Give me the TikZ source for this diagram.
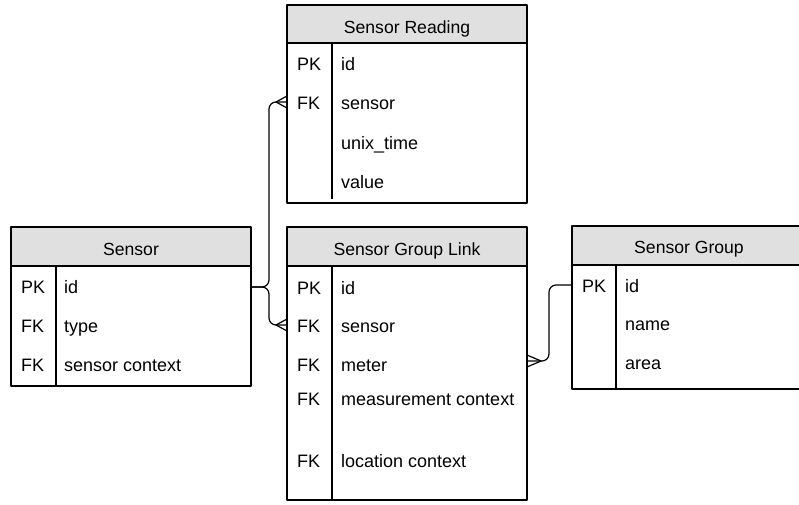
\documentclass[tikz,border=0pt]{standalone}
\usepackage{fontspec}
\setmainfont{Liberation Sans}
\begin{document}
\begin{tikzpicture}[x=1pt,y=-1pt,
  line join=round,
  ebox/.style={draw, line width=1.2pt, inner sep=0pt, outer sep=0pt, anchor=north west, rectangle,
    path picture={\fill[hdr] (path picture bounding box.north west) rectangle ([yshift=-#1]path picture bounding box.north east);}},
  hline/.style={line width=1.2pt},
  ttl/.style={anchor=base, inner sep=0pt, font=\fontsize{17.6}{20}\selectfont},
  key/.style={anchor=base west, inner sep=0pt, font=\fontsize{18}{21}\selectfont},
  fld/.style={anchor=base west, inner sep=0pt, font=\fontsize{18}{21}\selectfont},
  conn/.style={line width=1.2pt, rounded corners=7pt},
  foot/.style={line width=1.2pt},
]
\definecolor{hdr}{RGB}{224,224,224}
\useasboundingbox (0,0) rectangle (799,504);

% ---------- Sensor Reading ----------
\node[ebox=38pt, minimum width=240pt, minimum height=198pt] (sr) at (287,5) {};
\draw[hline] (287,43) -- (527,43);
\draw[hline] (332,43) -- (332,199);
\node[ttl] (srT) at (407,33) {Sensor Reading};
\node[key] (srK1) at (297,70) {PK};
\node[fld] (srF1) at (341,70) {id};
\node[key] (srK2) at (297,109.5) {FK};
\node[fld] (srF2) at (341,109.5) {sensor};
\node[fld] (srF3) at (341,149) {unix\_time};
\node[fld] (srF4) at (341,188) {value};

% ---------- Sensor ----------
\node[ebox=39pt, minimum width=240pt, minimum height=159pt] (s) at (11,227) {};
\draw[hline] (11,266) -- (251,266);
\draw[hline] (56,266) -- (56,386);
\node[ttl] (sT) at (131,255.5) {Sensor};
\node[key] (sK1) at (21,293) {PK};
\node[fld] (sF1) at (64,293) {id};
\node[key] (sK2) at (21,332.5) {FK};
\node[fld] (sF2) at (64,332.5) {type};
\node[key] (sK3) at (21,371) {FK};
\node[fld] (sF3) at (64,371) {sensor context};

% ---------- Sensor Group Link ----------
\node[ebox=39pt, minimum width=240pt, minimum height=273pt] (sgl) at (287,227) {};
\draw[hline] (287,266) -- (527,266);
\draw[hline] (332,266) -- (332,500);
\node[ttl] (sglT) at (407,255) {Sensor Group Link};
\node[key] (sglK1) at (297,294) {PK};
\node[fld] (sglF1) at (341,294) {id};
\node[key] (sglK2) at (297,332.5) {FK};
\node[fld] (sglF2) at (341,332.5) {sensor};
\node[key] (sglK3) at (297,371) {FK};
\node[fld] (sglF3) at (341,371) {meter};
\node[key] (sglK4) at (297,405) {FK};
\node[fld] (sglF4) at (341,405) {measurement context};
\node[key] (sglK5) at (297,467) {FK};
\node[fld] (sglF5) at (341,467) {location context};

% ---------- Sensor Group ----------
\node[ebox=39pt, minimum width=240pt, minimum height=163pt] (sg) at (572,226) {};
\draw[hline] (572,265) -- (812,265);
\draw[hline] (616,265) -- (616,389);
\node[ttl] (sgT) at (689,253.5) {Sensor Group};
\node[key] (sgK1) at (582,292) {PK};
\node[fld] (sgF1) at (625,292) {id};
\node[fld] (sgF2) at (625,330.5) {name};
\node[fld] (sgF3) at (625,369) {area};

% ---------- connectors ----------
\coordinate (sId) at (251,287);
\coordinate (srSensor) at (287,102);
\coordinate (sglSensor) at (287,325);
\coordinate (sglMeter) at (527,361);
\coordinate (sgId) at (572,285);

\draw[conn] (sId) -- (269,287) -- (269,102) -- (srSensor);
\draw[conn] (sId) -- (269,287) -- (269,325) -- (sglSensor);
\draw[conn] (sgId) -- (549,285) -- (549,361) -- (sglMeter);

% crow's feet
\draw[foot] ([yshift=6pt]srSensor) -- ++(-11,6) -- ([yshift=-6pt]srSensor);
\draw[foot] ([yshift=6pt]sglSensor) -- ++(-11,6) -- ([yshift=-6pt]sglSensor);
\draw[foot] ([yshift=6pt]sglMeter) -- ++(14,6) -- ([yshift=-6pt]sglMeter);
\end{tikzpicture}
\end{document}
